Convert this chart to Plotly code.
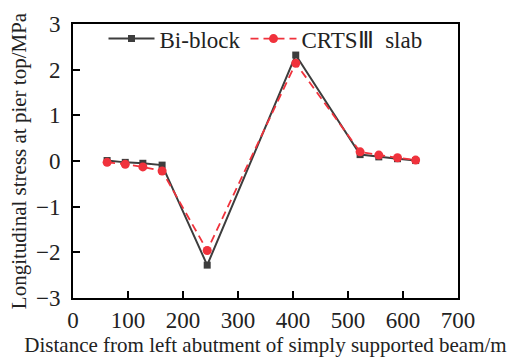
import plotly.graph_objects as go

x_pos = [62, 95, 127, 162, 244, 405, 522, 556, 590, 623]
bi_block = [0.01, -0.03, -0.05, -0.09, -2.28, 2.32, 0.14, 0.09, 0.05, 0.01]
crts3 = [-0.03, -0.07, -0.13, -0.22, -1.96, 2.14, 0.2, 0.13, 0.07, 0.02]

x_ticks = [0, 100, 200, 300, 400, 500, 600, 700]
y_ticks = [-3, -2, -1, 0, 1, 2, 3]

font_family = "Liberation Serif"

fig = go.Figure()
fig.add_trace(go.Scatter(
    x=x_pos, y=bi_block, mode="lines+markers", name="Bi-block",
    line=dict(color="#3d3d3d", width=2),
    marker=dict(symbol="square", size=7, color="#3d3d3d"),
))
fig.add_trace(go.Scatter(
    x=x_pos, y=crts3, mode="lines+markers", name="CRTSⅢ  slab",
    line=dict(color="#f0323c", width=1.8, dash="8px,5px"),
    marker=dict(symbol="circle", size=9, color="#f0323c"),
))

axis_common = dict(
    showline=True, linecolor="black", linewidth=2, mirror=True,
    ticks="inside", ticklen=7, tickwidth=1.5, tickcolor="black",
    showgrid=False, zeroline=False,
    tickfont=dict(family=font_family, size=23, color="#222"),
)

fig.update_layout(
    width=507, height=359,
    margin=dict(l=73, r=49, t=22, b=60),
    paper_bgcolor="white", plot_bgcolor="white",
    font=dict(family=font_family, color="#222"),
    xaxis=dict(range=[0, 700], tickvals=x_ticks,
               title=dict(text="Distance from left abutment of simply supported beam/m",
                          font=dict(family=font_family, size=21), standoff=0),
               **axis_common),
    yaxis=dict(range=[-3, 3], tickvals=y_ticks,
               ticktext=[("−" + str(-v)) if v < 0 else str(v) for v in y_ticks],
               ticklabelstandoff=6,
               title=dict(text="Longitudinal stress at pier top/MPa",
                          font=dict(family=font_family, size=21), standoff=4),
               **axis_common),
    legend=dict(orientation="h", x=0.5, xanchor="center", y=1.025, yanchor="top",
                bgcolor="rgba(0,0,0,0)", font=dict(family=font_family, size=23),
                itemwidth=46, tracegroupgap=0),
    showlegend=True,
)

fig.write_html("out.html")
